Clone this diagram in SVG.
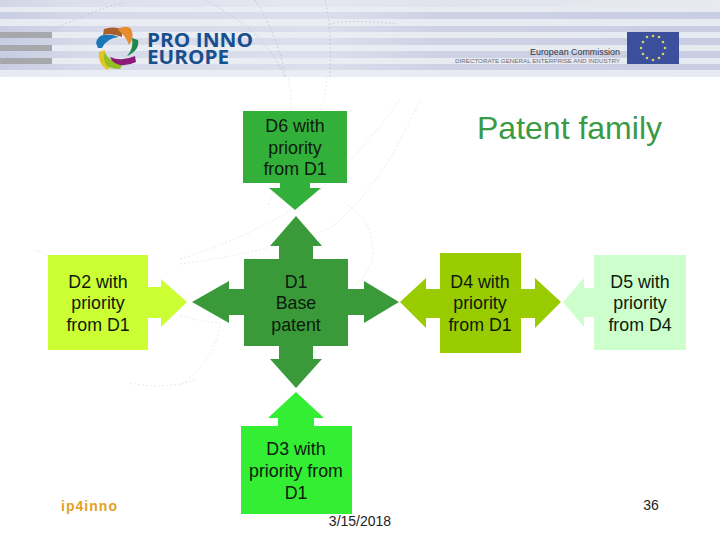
<svg xmlns="http://www.w3.org/2000/svg" width="720" height="540" viewBox="0 0 720 540">
<style>
.t{font-family:"Liberation Sans",Arial,sans-serif;font-size:17.800px;fill:#0c1a0c;text-anchor:middle}
.dk{fill:#c9cde2}.lt{fill:#e8eaf2}.gr{fill:#a6a8ac}
.arc{fill:none;stroke:#e2e3e8;stroke-width:.8;stroke-dasharray:2 2}
.harc{fill:none;stroke:#b9bcc8;stroke-width:.8;stroke-dasharray:1.500 2.500}
.d1{fill:#3a9a3a}.d6{fill:#33b03a}.d2{fill:#ccff33}.d3{fill:#33ee33}.d4{fill:#99cc00}.d5{fill:#ccffcc}
</style>
<defs>
<linearGradient id="fade" x1="0" x2="1" y1="0" y2="0"><stop offset="0" stop-color="#eef0f6" stop-opacity="0"/><stop offset=".12" stop-color="#eef0f6" stop-opacity=".35"/><stop offset=".45" stop-color="#eef0f6" stop-opacity=".5"/><stop offset=".6" stop-color="#eef0f6" stop-opacity=".15"/><stop offset="1" stop-color="#eef0f6" stop-opacity="0"/></linearGradient>
<linearGradient id="topfade" x1="0" x2="1" y1="0" y2="0"><stop offset="0" stop-color="#d2d5e6"/><stop offset=".5" stop-color="#dcdfea"/><stop offset="1" stop-color="#e9eaf0"/></linearGradient>
<filter id="soft" x="-2%" y="-5%" width="104%" height="110%"><feGaussianBlur stdDeviation=".5"/></filter>
</defs>
<rect width="720" height="540" fill="#fff"/>
<g id="header">
<rect width="720" height="77" class="lt"/>
<g filter="url(#soft)">
<rect y="0" width="720" height="7" fill="url(#topfade)"/>
<rect y="12" width="720" height="7" class="dk"/>
<rect y="26" width="720" height="6" class="dk"/>
<rect y="38" width="720" height="7" class="dk"/>
<rect y="51" width="720" height="7" class="dk"/>
<rect y="64" width="720" height="6" class="dk"/>
</g>
<rect width="720" height="77" fill="url(#fade)"/>
<rect y="32" width="52" height="6" class="gr"/>
<rect y="45" width="52" height="6" class="gr"/>
<rect y="58" width="52" height="6" class="gr"/>
<path d="M0 62Q60 20 125 2M205 0Q265 30 285 77M255 0Q280 40 285 77M325 0Q332 30 330 77M330 24Q350 19 398 24" class="harc"/>
</g>
<g id="logo">
<path d="M104 29Q112 26 122 29L122 37Q112 33 103 35Z" fill="#a85f2a"/>
<path d="M120 28Q128 25 131 29Q135 37 129 45Q126 36 118 30Z" fill="#e88a2e"/>
<path d="M96 43Q98 35 104 35Q112 34 119 37Q107 38 102 48L98 48Z" fill="#1b78b8"/>
<path d="M132 38L138 40Q140 50 127 56Q134 48 132 38Z" fill="#1d8a4a"/>
<path d="M99 52L105 50Q103 60 110 68L107 70Q97 62 99 52Z" fill="#e2c61f"/>
<path d="M105 52Q107 60 122 65L120 69Q112 69 107 66Q102 58 105 52Z" fill="#93bf22"/>
<path d="M110 57Q122 62 135 56L136 62Q128 66 120 65Q112 63 110 57Z" fill="#8e1a78"/>
<text x="147" y="47" font-family="'Open Sans','Liberation Sans',sans-serif" font-weight="700" font-size="19.500" fill="#184f8e" textLength="106" lengthAdjust="spacingAndGlyphs">PRO INNO</text>
<text x="147" y="64" font-family="'Open Sans','Liberation Sans',sans-serif" font-weight="700" font-size="19.500" fill="#184f8e" textLength="82" lengthAdjust="spacingAndGlyphs">EUROPE</text>
</g>
<g id="commission">
<text x="530" y="55" font-family="'Liberation Sans',sans-serif" font-size="9.500" fill="#33363f" textLength="90" lengthAdjust="spacingAndGlyphs">European Commission</text>
<text x="455" y="63" font-family="'Liberation Sans',sans-serif" font-size="5.500" fill="#6a6d7c" textLength="165" lengthAdjust="spacingAndGlyphs">DIRECTORATE GENERAL ENTERPRISE AND INDUSTRY</text>
<rect x="627" y="32" width="52" height="32" fill="#3c4f9c"/>
<g fill="#d8d468"><circle cx="653" cy="36" r="1.300"/><circle cx="659" cy="37" r="1.300"/><circle cx="663" cy="42" r="1.300"/><circle cx="665" cy="48" r="1.300"/><circle cx="663" cy="54" r="1.300"/><circle cx="659" cy="58" r="1.300"/><circle cx="653" cy="60" r="1.300"/><circle cx="647" cy="58" r="1.300"/><circle cx="643" cy="54" r="1.300"/><circle cx="641" cy="48" r="1.300"/><circle cx="643" cy="42" r="1.300"/><circle cx="647" cy="37" r="1.300"/></g>
</g>
<g id="backdrop-arcs">
<path d="M180 259Q270 230 320 190Q355 160 400 100M180 264Q280 250 330 228Q380 190 420 100M268 205Q300 125 288 77M326 77Q328 90 320 110M347 205Q372 220 373 250Q372 272 355 285M180 315Q200 322 220 323Q216 360 180 385M130 383Q165 390 195 380M35 250Q50 255 75 270" class="arc"/>
</g>
<g id="connectors">
<path class="d6" d="M280 183V188H269L295 210L321 188H310V183Z"/>
<path class="d1" d="M296 216L322 246H313V259H279V246H270Z"/>
<path class="d1" d="M296 388L322 359H313V346H279V359H270Z"/>
<path class="d1" d="M192 302L229 281V289H244V315H229V323Z"/>
<path class="d1" d="M399 302L364 281V289H348V315H364V323Z"/>
<path class="d2" d="M187 302L161 279V287H148V318H161V327Z"/>
<path class="d3" d="M296 392L324 418H314V426H278V418H268Z"/>
<path class="d4" d="M400 302L426 278V289H440V318H426V328Z"/>
<path class="d4" d="M561 302L535 278V289H521V318H535V328Z"/>
<path class="d5" d="M563 302L584 278V288H594V317H584V327Z"/>
</g>
<g id="d6"><rect x="243" y="111" width="104" height="72" class="d6"/><text class="t" x="295" y="132">D6 with</text><text class="t" x="295" y="154">priority</text><text class="t" x="295" y="175">from D1</text></g>
<g id="d1"><rect x="244" y="259" width="104" height="87" class="d1"/><text class="t" x="296" y="288">D1</text><text class="t" x="296" y="309">Base</text><text class="t" x="296" y="331">patent</text></g>
<g id="d2"><rect x="48" y="255" width="100" height="95" class="d2"/><text class="t" x="98" y="288">D2 with</text><text class="t" x="98" y="309">priority</text><text class="t" x="98" y="331">from D1</text></g>
<g id="d3"><rect x="241" y="426" width="111" height="88" class="d3"/><text class="t" x="296" y="455">D3 with</text><text class="t" x="296" y="477">priority from</text><text class="t" x="296" y="499">D1</text></g>
<g id="d4"><rect x="440" y="253" width="81" height="100" class="d4"/><text class="t" x="480" y="288">D4 with</text><text class="t" x="480" y="309">priority</text><text class="t" x="480" y="331">from D1</text></g>
<g id="d5"><rect x="594" y="255" width="92" height="95" class="d5"/><text class="t" x="640" y="288">D5 with</text><text class="t" x="640" y="309">priority</text><text class="t" x="640" y="331">from D4</text></g>
<text x="569.500" y="139" font-family="'Liberation Sans',Arial,sans-serif" font-size="32" fill="#3a9a45" text-anchor="middle">Patent family</text>
<text x="61" y="511" font-family="'Liberation Sans',sans-serif" font-size="14" font-weight="700" fill="#e5a11f" textLength="56" lengthAdjust="spacing">ip4inno</text>
<text x="360" y="526" font-family="'Liberation Sans',Arial,sans-serif" font-size="14" fill="#222" text-anchor="middle">3/15/2018</text>
<text x="651" y="510" font-family="'Liberation Sans',Arial,sans-serif" font-size="14" fill="#222" text-anchor="middle">36</text>
</svg>
